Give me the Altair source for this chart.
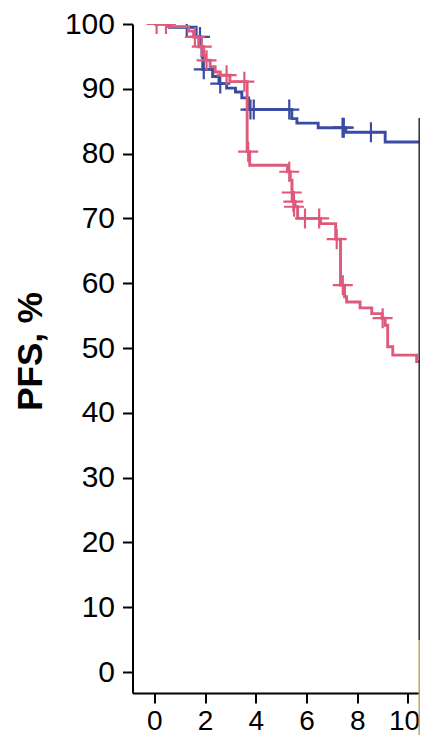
import altair as alt
import pandas as pd

# ---- data (time, survival %) ----
blue_t = [0, 0.6, 1.65, 1.84, 1.88, 1.91, 2.3, 2.55, 2.85, 3.2, 3.45, 3.72, 5.42, 5.62, 6.46, 7.55, 9.1, 10.85, 11.2]
blue_s = [100, 99.5, 98.0, 96.5, 95.0, 93.0, 91.9, 90.8, 90.1, 89.5, 88.6, 86.8, 85.4, 84.7, 84.0, 83.3, 81.8, 80.3, 80.3]
blue_ct = [1.28, 1.8, 1.95, 2.6, 3.79, 3.92, 5.32, 7.42, 7.47, 8.54, 10.98]
blue_cs = [99.5, 98.0, 93.0, 90.8, 86.8, 86.8, 86.8, 84.0, 84.0, 83.3, 80.3]

pink_t = [0, 0.5, 1.35, 1.55, 1.75, 1.95, 2.0, 2.2, 2.4, 2.6, 2.98, 3.66, 3.76, 5.25, 5.36, 5.43,
          5.49, 5.55, 5.65, 6.55, 7.15, 7.34, 7.5, 7.58, 8.11, 8.57, 8.98, 9.1, 9.2, 9.4, 10.34,
          10.76, 10.95, 11.3]
pink_s = [100, 99.6, 98.9, 98.0, 96.5, 95.2, 94.4, 93.4, 92.6, 92.1, 91.1, 80.3, 78.2, 77.2, 75.9, 74.0,
          72.6, 71.8, 70.0, 69.2, 66.8, 59.7, 57.9, 57.1, 56.2, 55.3, 54.6, 53.5, 50.2, 48.9, 47.9,
          46.3, 39.8, 39.8]
pink_ct = [0.09, 0.46, 1.6, 1.87, 2.06, 2.85, 3.55, 3.7, 5.32, 5.42, 5.48, 5.51, 5.94, 6.5, 7.19, 7.43, 9.0, 10.83, 11.1]
pink_cs = [100, 100, 98.0, 96.5, 94.4, 92.1, 91.1, 80.3, 77.2, 74.0, 72.6, 71.8, 70.0, 70.0, 66.8, 59.7, 54.6, 46.3, 39.8]

x_ticks = [0, 2, 4, 6, 8, 10]
y_ticks = [0, 10, 20, 30, 40, 50, 60, 70, 80, 90, 100]
y_title = "PFS, %"

BLUE = "#3a4ba2"
PINK = "#de5a7b"
FONT = "Liberation Sans"

W, H = 287.5, 669

blue_line = pd.DataFrame({"t": blue_t, "s": blue_s})
blue_cens = pd.DataFrame({"t": blue_ct, "s": blue_cs})
pink_line = pd.DataFrame({"t": pink_t, "s": pink_s})
pink_cens = pd.DataFrame({"t": pink_ct, "s": pink_cs})

xs = alt.Scale(domain=[-0.859, 10.473], nice=False, zero=False)
ys = alt.Scale(domain=[-3.24, 100], nice=False, zero=False)

xax = alt.Axis(values=x_ticks, grid=False, domainColor="black", domainWidth=2,
               tickColor="black", tickWidth=2, tickSize=10, labelFont=FONT,
               labelFontSize=28, labelColor="black", labelPadding=26,
               labelOffset={"condition": {"test": "datum.value == 10", "value": -4}, "value": 0},
               labelBaseline="alphabetic", title=None, labelFlush=False)
yax = alt.Axis(values=y_ticks, grid=False, domainColor="black", domainWidth=2,
               tickColor="black", tickWidth=2, tickSize=10, labelFont=FONT,
               labelFontSize=30, labelColor="black", labelPadding=8,
               title=y_title, titleFont=FONT, titleFontSize=35, titleFontWeight="bold",
               titleColor="black", titleAngle=270, titleX=-91, titleY=327,
               titleAlign="center", titleBaseline="alphabetic", labelFlush=False)

X = alt.X("t:Q", scale=xs, axis=xax)
Y = alt.Y("s:Q", scale=ys, axis=yax)

cross = "M-1,0L1,0M0,-1L0,1"

l1 = alt.Chart(blue_line).mark_line(interpolate="step-after", color=BLUE, strokeWidth=2.9, clip=True).encode(x=X, y=Y)
c1 = alt.Chart(blue_cens).mark_point(shape=cross, size=400, color=BLUE, strokeWidth=2.2, opacity=1, clip=True).encode(x=X, y=Y)
l2 = alt.Chart(pink_line).mark_line(interpolate="step-after", color=PINK, strokeWidth=2.9, clip=True).encode(x=X, y=Y)
c2 = alt.Chart(pink_cens).mark_point(shape=cross, size=400, color=PINK, strokeWidth=2.2, opacity=1, clip=True).encode(x=X, y=Y)

edge_dark = alt.Chart(pd.DataFrame({"a": [0]})).mark_rule(color="#2b2f33", strokeWidth=1.5).encode(
    x=alt.value(W - 0.8), y=alt.value(94), y2=alt.value(616))
edge_olive = alt.Chart(pd.DataFrame({"a": [0]})).mark_rule(color="#b9a862", strokeWidth=1.5).encode(
    x=alt.value(W - 0.8), y=alt.value(616), y2=alt.value(711))

chart = alt.layer(l1, c1, l2, c2, edge_dark, edge_olive).properties(
    width=W, height=H,
    background="white",
    autosize=alt.AutoSizeParams(type="none"),
    padding={"left": 124.5, "top": 16, "right": 0, "bottom": 42},
).configure_view(stroke=None)

chart.save("out.html", embed_options={"renderer": "svg", "actions": False})
